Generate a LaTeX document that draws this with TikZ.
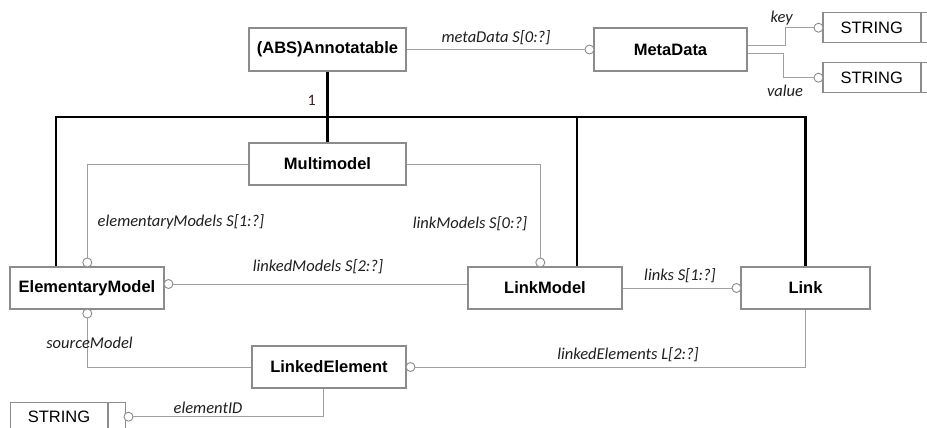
\documentclass[tikz,border=0pt]{standalone}
\usepackage{fontspec}
\setmainfont{Liberation Sans}
\newfontfamily\lblfont{Carlito}
\definecolor{boxgray}{HTML}{8C8C8C}
\definecolor{conngray}{HTML}{A0A0A0}
\definecolor{onecol}{HTML}{3A2424}
\begin{document}
\begin{tikzpicture}[x=1pt,y=-1pt,
  box/.style={draw=boxgray, line width=1.1pt, fill=white, inner sep=0pt,
    font=\fontsize{16.5}{18}\selectfont\bfseries, minimum height=42pt},
  strbox/.style={draw=boxgray, line width=1.1pt, fill=white, inner sep=0pt,
    font=\fontsize{16.5}{18}\selectfont, minimum height=30pt},
  circ/.style={circle, draw=boxgray, line width=0.9pt, fill=white, inner sep=0pt, minimum size=9pt},
  conn/.style={draw=conngray, line width=1pt},
  bus/.style={draw=black, line width=2.8pt, line join=miter},
  lbl/.style={font=\lblfont\itshape\fontsize{16.5}{18}\selectfont, text=black!88, inner sep=0pt}]
\useasboundingbox (0,0) rectangle (927,428);
\clip (0,0) rectangle (927,428);
\fill[white] (0,0) rectangle (927,428);

% bus lines
\coordinate (busL) at (56,117);
\coordinate (busM) at (577,117);
\coordinate (busR) at (805.5,117);

% boxes
\node[box, minimum width=157pt, minimum height=43pt] (ann) at (327.5,49.5) {(ABS)Annotatable};
\node[box, minimum width=153pt, minimum height=43pt] (meta) at (670.5,49.5) {MetaData};
\node[box, minimum width=157pt] (mm) at (327.5,164) {Multimodel};
\node[box, minimum width=154pt] (em) at (87,288) {ElementaryModel};
\node[box, minimum width=154pt] (lm) at (545,288) {LinkModel};
\node[box, minimum width=129pt] (link) at (805.5,288) {Link};
\node[box, minimum width=154pt] (le) at (329,367) {LinkedElement};

\draw[bus] (busL |- em.north) -- (busL) -- (busR) -- (link.north);
\draw[bus] (ann.south) -- (mm.north);
\draw[bus] (busM) -- (busM |- lm.north);
% redraw box borders over bus ends
\node[box, minimum width=157pt, minimum height=43pt] at (327.5,49.5) {(ABS)Annotatable};
\node[box, minimum width=157pt] at (327.5,164) {Multimodel};
\node[box, minimum width=154pt] at (87,288) {ElementaryModel};
\node[box, minimum width=154pt] at (545,288) {LinkModel};
\node[box, minimum width=129pt] at (805.5,288) {Link};

% STRING boxes
\node[strbox, minimum width=97.4pt] (skey) at (871.7,27.7) {STRING};
\node[strbox, minimum width=16.3pt, anchor=west] (skeyx) at (skey.east) {};
\node[strbox, minimum width=97.4pt] (sval) at (871.7,77.7) {STRING};
\node[strbox, minimum width=16.3pt, anchor=west] (svalx) at (sval.east) {};
\node[strbox, minimum width=97.4pt] (sid) at (59,417.3) {STRING};
\node[strbox, minimum width=16.3pt, anchor=west] (sidx) at (sid.east) {};

% circles
\node[circ] (cmeta) at (589.5,49.5) {};
\node[circ] (ckey) at (818.5,27.7) {};
\node[circ] (cval) at (818.5,77.7) {};
\node[circ] (cem) at (87.3,262.5) {};
\node[circ] (clm) at (540.3,262.5) {};
\node[circ] (clinked) at (168.5,284) {};
\node[circ] (clinks) at (736.5,288) {};
\node[circ] (csrc) at (87.3,313.5) {};
\node[circ] (cle) at (410.5,367) {};
\node[circ] (cid) at (128.5,416.7) {};

% connectors
\draw[conn] (ann.east) -- (cmeta.west);
\draw[conn] ([yshift=4pt]meta.east) -- ++(38,0) |- (ckey.west);
\draw[conn] ([yshift=-4pt]meta.east) -- ++(36,0) |- (cval.west);
\draw[conn] (mm.west) -| (cem.north);
\draw[conn] (mm.east) -| (clm.north);
\draw[conn] (lm.west |- clinked) -- (clinked.east);
\draw[conn] (lm.east) -- (clinks.west);
\draw[conn] (csrc.south) |- (le.west);
\draw[conn] (link.south) |- (cle.east);
\draw[conn] ([xshift=-5.7pt]le.south) |- (cid.east);

% labels
\node[lbl] (lmeta) at (496,37.7) {metaData S[0:?]};
\node[lbl] (lkey) at (781.7,18.3) {key};
\node[lbl] (lval) at (785,90.7) {value};
\node[font=\lblfont\fontsize{16}{18}\selectfont, text=onecol, inner sep=0pt] (lone) at (311.7,100) {1};
\node[lbl] (lelem) at (181,221.7) {elementaryModels S[1:?]};
\node[lbl] (llm) at (470,223.3) {linkModels S[0:?]};
\node[lbl] (llinked) at (318,266.7) {linkedModels S[2:?]};
\node[lbl] (llinks) at (680,275.7) {links S[1:?]};
\node[lbl] (lsrc) at (89.5,343.3) {sourceModel};
\node[lbl] (lle) at (628,355) {linkedElements L[2:?]};
\node[lbl] (lid) at (208,408.3) {elementID};
\end{tikzpicture}
\end{document}
